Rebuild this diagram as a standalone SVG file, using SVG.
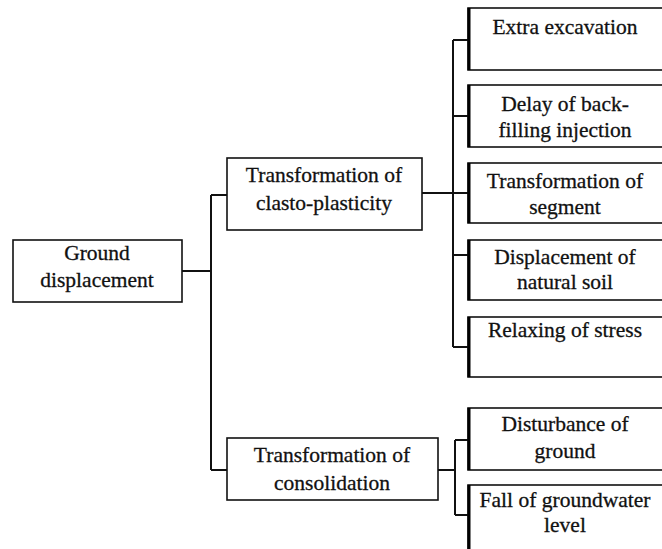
<svg xmlns="http://www.w3.org/2000/svg" width="662" height="549" viewBox="0 0 662 549">
<style>
.box{fill:#fff;stroke:#111;stroke-width:1.6}
.edge{stroke:#000;stroke-width:3;fill:none}
.ln{stroke:#111;stroke-width:2;fill:none}
.t text{font-family:'Liberation Serif','Times New Roman',Times,serif;font-size:21.5px;fill:#111;stroke:#111;stroke-width:0.3;text-anchor:middle}
</style>
<rect width="662" height="549" fill="#fff"/>
<g id="connectors">
<path class="ln" d="M182,271 H211 M211,195 V470 M211,195 H227 M211,470 H227"/>
<path class="ln" d="M422,193 H453 M453,40 V347 M453,40 H468 M453,116 H468 M453,193 H468 M453,255 H468 M453,347 H468"/>
<path class="ln" d="M438,470 H455 M455,440 V515 M455,440 H468 M455,515 H468"/>
</g>
<g class="t">
<g id="n-ground">
<rect class="box" x="13" y="240" width="169" height="62"/>
<text x="97" y="260">Ground</text>
<text x="97" y="287">displacement</text>
</g>
<g id="n-elasto">
<rect class="box" x="227" y="158" width="195" height="72"/>
<text x="324" y="182">Transformation of</text>
<text x="324" y="210">clasto-plasticity</text>
</g>
<g id="n-consol">
<rect class="box" x="227" y="438" width="211" height="62"/>
<text x="332" y="462">Transformation of</text>
<text x="332" y="490">consolidation</text>
</g>
<g id="n-extra">
<rect class="box" x="468" y="8" width="200" height="62"/>
<path class="edge" d="M469,8 V70"/>
<text x="565" y="34">Extra excavation</text>
</g>
<g id="n-delay">
<rect class="box" x="468" y="85" width="200" height="62"/>
<path class="edge" d="M469,85 V147"/>
<text x="565" y="111">Delay of back-</text>
<text x="565" y="137">filling injection</text>
</g>
<g id="n-segment">
<rect class="box" x="468" y="163" width="200" height="60"/>
<path class="edge" d="M469,163 V223"/>
<text x="565" y="188">Transformation of</text>
<text x="565" y="214">segment</text>
</g>
<g id="n-soil">
<rect class="box" x="468" y="240" width="200" height="60"/>
<path class="edge" d="M469,240 V300"/>
<text x="565" y="264">Displacement of</text>
<text x="565" y="289">natural soil</text>
</g>
<g id="n-stress">
<rect class="box" x="468" y="317" width="200" height="60"/>
<path class="edge" d="M469,317 V377"/>
<text x="565" y="337">Relaxing of stress</text>
</g>
<g id="n-disturb">
<rect class="box" x="468" y="408" width="200" height="62"/>
<path class="edge" d="M469,408 V470"/>
<text x="565" y="431">Disturbance of</text>
<text x="565" y="458">ground</text>
</g>
<g id="n-water">
<rect class="box" x="468" y="485" width="200" height="70"/>
<path class="edge" d="M469,485 V555"/>
<text x="565" y="507">Fall of groundwater</text>
<text x="565" y="532">level</text>
</g>
</g>
</svg>
